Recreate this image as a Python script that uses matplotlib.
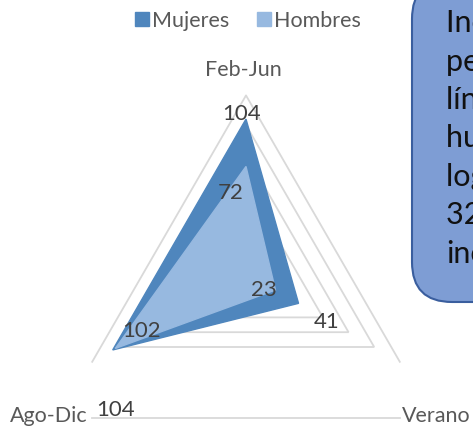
import numpy as np
import matplotlib.pyplot as plt
from matplotlib.patches import Patch, FancyBboxPatch

# datos
categorias = ["Feb-Jun", "Verano", "Ago-Dic"]
mujeres = [104, 41, 104]
hombres = [72, 23, 102]
anillos = [20, 40, 60, 80, 100, 120]
nota_lineas = ["Incremento en el", "periodo en", "línea de", "hubo más", "logros con", "32 % de", "incremento"]

# layout (pixeles)
W, H = 473, 427
CX, CY = 246, 274
PPU = 1.48
SHIFT = 56

c_muj = "#4F86BD"
c_hom = "#97B9E0"
c_grid = "#D9D9D9"
c_txt = "#595959"
c_lbl = "#404040"
plt.rcParams["font.family"] = ["Lato", "DejaVu Sans"]

angulos = np.deg2rad(90 - 120 * np.arange(len(categorias)))


def xy(vals):
    vals = np.asarray(vals, dtype=float)
    return vals * np.cos(angulos), vals * np.sin(angulos)


fig = plt.figure(figsize=(W / 100, H / 100), dpi=100)
ax = fig.add_axes([0, 0, 1, 1])
ax.set_xlim(-CX / PPU, (W - CX) / PPU)
ax.set_ylim(-(H - CY) / PPU, CY / PPU)
ax.axis("off")

# rejilla triangular
for r in anillos[:-1]:
    gx, gy = xy([r] * 3)
    ax.fill(gx, gy, fill=False, ec=c_grid, lw=1.3, zorder=1)
rmax = anillos[-1]
gx, gy = xy([rmax] * 3)
ax.plot([gx[2], gx[0], gx[1]], [gy[2], gy[0], gy[1]], color=c_grid, lw=1.3, zorder=1)
ax.plot([gx[2], gx[1]], [gy[2] - SHIFT / PPU, gy[1] - SHIFT / PPU], color=c_grid, lw=1.3, zorder=1)

# series
mx, my = xy(mujeres)
hx, hy = xy(hombres)
ax.fill(mx, my, color=c_muj, ec=c_muj, lw=1, zorder=2)
ax.fill(hx, hy, color=c_hom, ec=c_hom, lw=1, zorder=3)

# etiquetas de datos
off_muj = [(-4, 6), (28, -18), (3, -59)]
off_hom = [(-15, -26), (-12, 1), (26, 18)]
for vals, px, py, offs in [(mujeres, mx, my, off_muj), (hombres, hx, hy, off_hom)]:
    for v, x, y, o in zip(vals, px, py, offs):
        ax.annotate(str(v), (x, y), xytext=o, textcoords="offset pixels",
                    ha="center", va="center", fontsize=16, color=c_lbl, zorder=6)

# etiquetas de categoria
ax.annotate(categorias[0], (gx[0], gy[0]), xytext=(-3, 26), textcoords="offset pixels",
            ha="center", va="center", fontsize=15.5, color=c_txt)
ax.annotate(categorias[1], (gx[1], gy[1]), xytext=(2, -53), textcoords="offset pixels",
            ha="left", va="center", fontsize=15.5, color=c_txt)
ax.annotate(categorias[2], (gx[2], gy[2]), xytext=(-5, -53), textcoords="offset pixels",
            ha="right", va="center", fontsize=15.5, color=c_txt)

fig.legend(handles=[Patch(color=c_muj, label="Mujeres"), Patch(color=c_hom, label="Hombres")],
           loc="upper center", bbox_to_anchor=(248 / W, 1 + 8 / H), ncol=2, frameon=False,
           handlelength=0.62, handleheight=0.62, handletextpad=0.15, columnspacing=1.3,
           fontsize=15.5, labelcolor=c_txt)

# cuadro de texto
ax2 = fig.add_axes([0, 0, 1, 1], zorder=5)
ax2.set_xlim(0, W)
ax2.set_ylim(H, 0)
ax2.axis("off")
ax2.add_patch(FancyBboxPatch((412, -20), 200, 323, boxstyle="round,pad=0,rounding_size=40",
                             fc="#7E9DD4", ec="#3A5E9E", lw=1.5))
for i, linea in enumerate(nota_lineas):
    ax2.text(446, 32 + i * 38.5, linea, fontsize=22, color="#111111", va="baseline", ha="left")

fig.savefig("out.png", dpi=100)
